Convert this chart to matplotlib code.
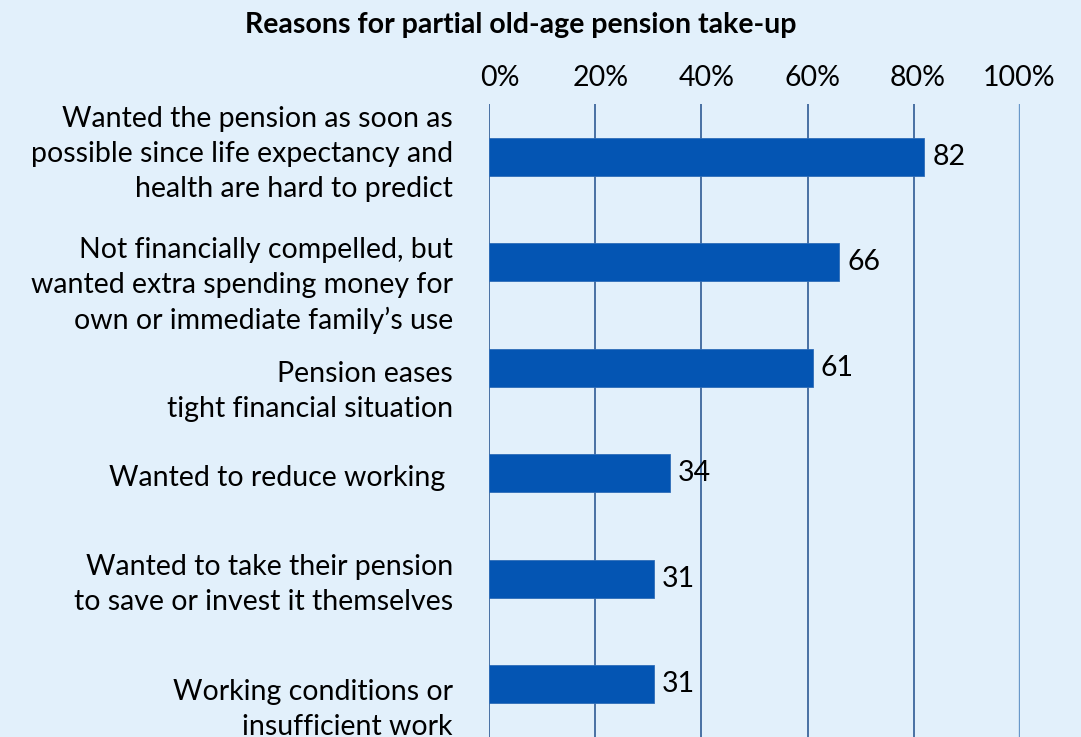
import matplotlib.pyplot as plt
import matplotlib.transforms as mtransforms
import numpy as np

plt.rcParams['font.family'] = ['Lato', 'DejaVu Sans']

reasons = [
    'Wanted the pension as soon as\npossible since life expectancy and\nhealth are hard to predict',
    'Not financially compelled, but\nwanted extra spending money for\nown or immediate family\u2019s use',
    'Pension eases\ntight financial situation',
    'Wanted to reduce working ',
    'Wanted to take their pension\nto save or invest it themselves',
    'Working conditions or\ninsufficient work',
]
shares = [82, 66, 61, 34, 31, 31]
ticks = [0, 20, 40, 60, 80, 100]
tick_labels = ['0%', '20%', '40%', '60%', '80%', '100%']

# small nudges (pixels) for the category and percentage labels
label_shift_y = [-10, 16, 17, 2, -1, 18.5]
tick_shift_x = [11, 5, 5, 5, 4, -1]

bg = '#E2F0FB'
bar_color = '#0455B3'

fig = plt.figure(figsize=(10.81, 7.37), dpi=100, facecolor=bg)
ax = fig.add_axes([489 / 1081, 0.0, 531 / 1081, 1 - 104 / 737])
ax.set_facecolor(bg)

y = np.arange(len(shares))
ax.barh(y, shares, height=0.36, color=bar_color, edgecolor='#2F6DB8', linewidth=0.6, zorder=3)
for yi, v in zip(y, shares):
    ax.text(v + 1.5, yi, str(v), va='center', ha='left', fontsize=20.5, zorder=4)

ax.set_xlim(0, 100)
ax.set_ylim(len(shares) - 0.5, -0.5)
ax.set_yticks(y)
ax.set_yticklabels(reasons, fontsize=20.5, linespacing=1.43)
ax.tick_params(axis='y', length=0, pad=26)
for lab, dy in zip(ax.get_yticklabels(), label_shift_y):
    lab.set_transform(lab.get_transform() +
                      mtransforms.ScaledTranslation(0, -dy / 100, fig.dpi_scale_trans))

ax.xaxis.tick_top()
ax.set_xticks(ticks)
ax.set_xticklabels(tick_labels, fontsize=20.5)
ax.tick_params(axis='x', length=0, pad=9)
for lab, dx in zip(ax.get_xticklabels(), tick_shift_x):
    lab.set_transform(lab.get_transform() +
                      mtransforms.ScaledTranslation(dx / 100, 0, fig.dpi_scale_trans))

for t in ticks[:-1]:
    ax.axvline(t, color='#1F4E8C', linewidth=1.1, zorder=2)
ax.axvline(100, color='#6A98C9', linewidth=2.4, zorder=2)

for s in ax.spines.values():
    s.set_visible(False)

fig.text(521 / 1081, 1 - 25 / 737, 'Reasons for partial old-age pension take-up',
         ha='center', va='center', fontsize=20.5, fontweight='bold')

fig.savefig('out.png', dpi=100, facecolor=bg)
